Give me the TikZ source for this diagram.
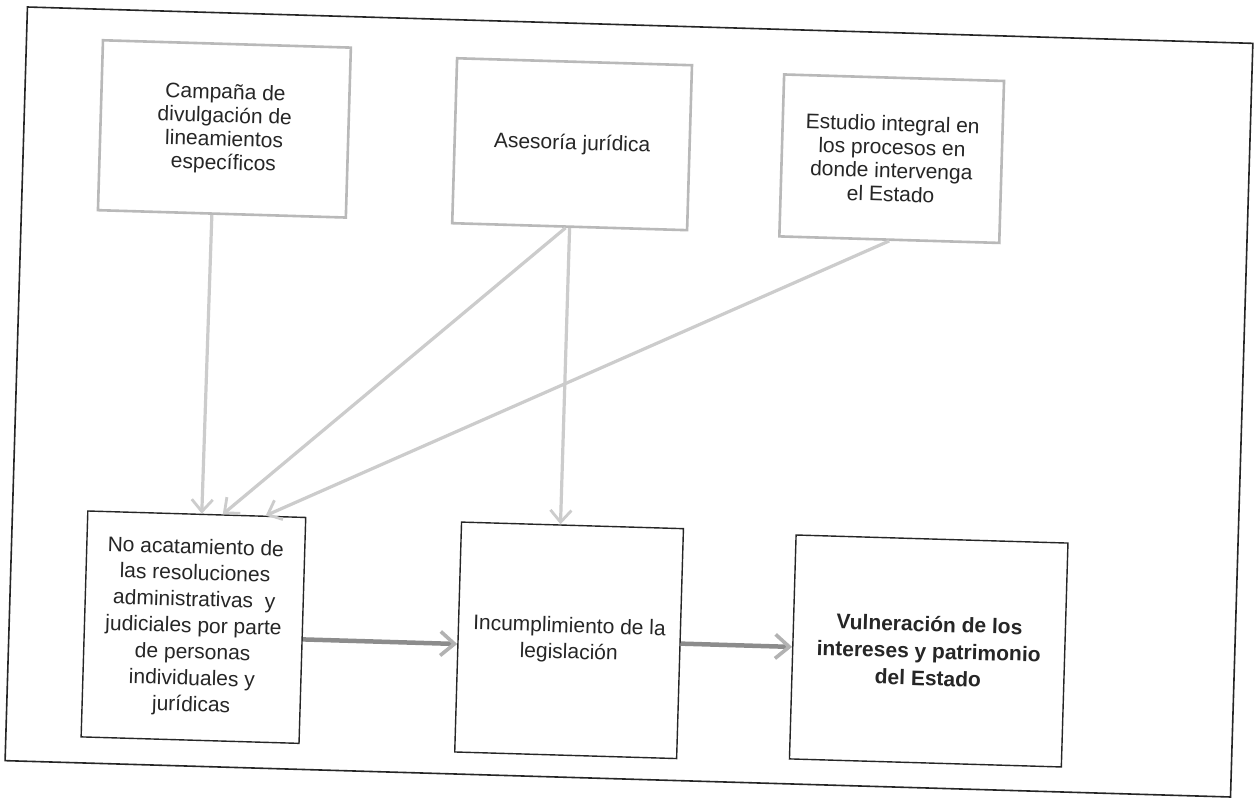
\documentclass[tikz,border=0pt]{standalone}
\usepackage{fontspec}
\setmainfont{Liberation Sans}
\usetikzlibrary{arrows.meta}
\begin{document}
\begin{tikzpicture}[x=1pt,y=-1pt,
  txt/.style={text=black!85, align=center, inner sep=0pt, transform shape},
  topbox/.style={txt, draw=gray!55, line width=2.6pt, font=\fontsize{21}{23.5}\selectfont},
  botbox/.style={txt, draw=black!85, line width=1.4pt, font=\fontsize{21}{26.3}\selectfont},
  toparr/.style={draw=gray!40, line width=3.2pt,
     -{Straight Barb[length=12pt,width=21pt,line width=2.8pt]}},
  horarr/.style={draw=gray!90, line width=4.5pt,
     -{Straight Barb[length=14pt,width=24pt,line width=3.6pt,color=gray!60]}}]
\fill[white] (0,0) rectangle (1258,802);
\useasboundingbox (0,0) rectangle (1258,802);
\begin{scope}[rotate around={-1.7:(629,401)}]
  \draw[black!85, line width=1.6pt] (16,25) rectangle (1242,779);
  \node[topbox, minimum width=248pt, minimum height=170pt] (A) at (216.5,141)
    {Campaña de\\divulgación de\\lineamientos\\específicos};
  \node[topbox, minimum width=235pt, minimum height=165pt] (B) at (564.5,146)
    {Asesoría jurídica};
  \node[topbox, minimum width=220pt, minimum height=162pt] (C) at (884.4,151)
    {Estudio integral en\\los procesos en\\donde intervenga\\el Estado};
  \node[botbox, minimum width=218pt, minimum height=226pt] (D) at (200.3,640)
    {No acatamiento de\\las resoluciones\\administrativas\ \ y\\judiciales por parte\\de personas\\individuales y\\jurídicas};
  \node[botbox, minimum width=222pt, minimum height=230pt] (E) at (576.2,642)
    {Incumplimiento de la\\legislación};
  \node[botbox, minimum width=272pt, minimum height=224pt, font=\fontsize{21}{27}\selectfont\bfseries] (F) at (936,642)
    {Vulneración de los\\intereses y patrimonio\\del Estado};
  \draw[toparr] ([xshift=-10pt]A.south) -- ([xshift=5pt]D.north);
  \draw[toparr] ([xshift=-4pt]B.south) -- ([xshift=26pt]D.north);
  \draw[toparr] (C.south) -- ([xshift=69pt]D.north);
  \draw[toparr] (B.south) -- ([xshift=-12pt]E.north);
  \draw[horarr] ([yshift=-9pt]D.east) -- ([yshift=-7pt]E.west);
  \draw[horarr] (E.east) -- (F.west);
\end{scope}
\end{tikzpicture}
\end{document}
